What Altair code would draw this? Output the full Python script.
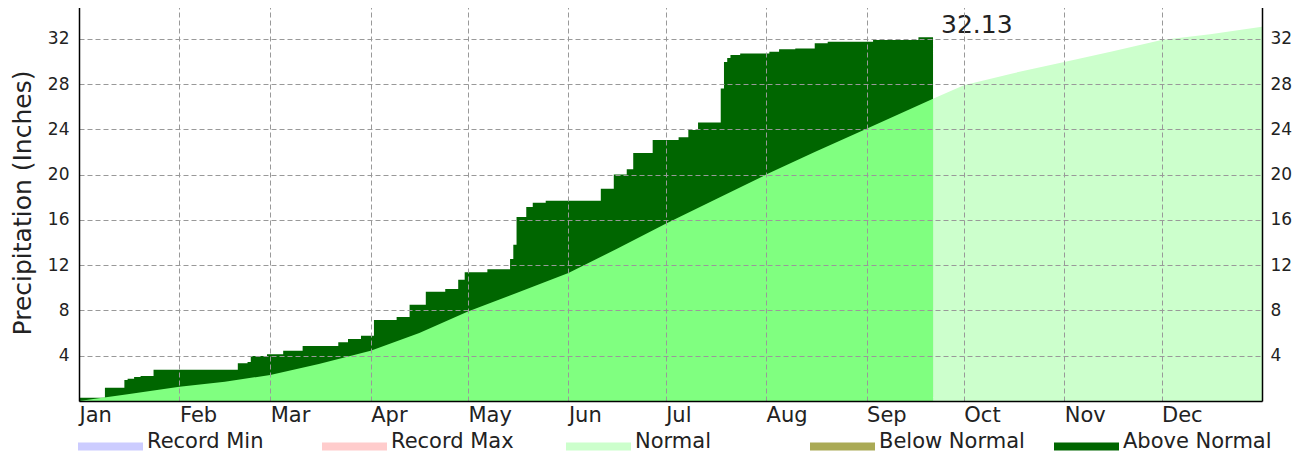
import altair as alt
import pandas as pd

# ---- data ----
months = ["Jan", "Feb", "Mar", "Apr", "May", "Jun", "Jul", "Aug", "Sep", "Oct", "Nov", "Dec"]
month_start_days = [0, 31, 59, 90, 120, 151, 181, 212, 243, 273, 304, 334]
y_ticks = [4, 8, 12, 16, 20, 24, 28, 32]

normal_days = [0, 15, 31, 45, 59, 74, 90, 105, 120, 135, 151, 166, 181, 196, 212,
               227, 243, 263.5, 273, 288, 304, 319, 334, 349, 365]
normal_vals = [0, 0.6, 1.25, 1.7, 2.3, 3.27, 4.45, 6.0, 7.9, 9.55, 11.3, 13.45, 15.65, 17.75, 20.0,
               22.0, 24.05, 26.7, 27.9, 28.94, 29.95, 30.9, 31.9, 32.4, 33.07]

obs_days = [0, 8, 14, 15, 17, 19, 23, 49, 52, 53, 58, 63, 69, 80, 83, 87, 91, 98, 102,
            107, 113, 117, 119, 126, 133, 134, 135, 138, 140, 144, 161, 165, 169, 171,
            177, 185, 188, 191, 198, 199, 200, 201, 204, 213, 216, 221, 227, 231, 245,
            259, 263.5]
obs_vals = [0.28, 1.18, 1.85, 1.97, 2.12, 2.2, 2.77, 3.33, 3.45, 3.97, 4.12, 4.45, 4.85,
            5.18, 5.48, 5.77, 7.16, 7.42, 8.5, 9.66, 9.9, 10.7, 11.38, 11.63, 12.55, 13.8,
            16.25, 17.13, 17.52, 17.7, 18.75, 20.0, 20.47, 21.9, 23.06, 23.3, 23.94, 24.6,
            27.6, 29.95, 30.3, 30.57, 30.7, 30.86, 31.07, 31.15, 31.6, 31.74, 31.9, 32.13,
            32.13]

obs_end_day = 263.5
obs_total_label = "32.13"

legend_names = ["Record Min", "Record Max", "Normal", "Below Normal", "Above Normal"]
series_names = legend_names + ["Observed Normal"]
series_colors = ["#ccccff", "#ffcccc", "#ccffcc", "#aaaa55", "#006600", "#80ff80"]

# ---- tables ----
normal_df = pd.DataFrame({"day": normal_days, "val": normal_vals})
obs_df = pd.DataFrame({"day": obs_days, "val": obs_vals})
label_df = pd.DataFrame({"day": [obs_end_day], "val": [obs_vals[-1]], "txt": [obs_total_label]})

FONT = "DejaVu Sans"
TXT = "#222222"
GRID = "#999999"

label_expr = ("[" + ",".join(f"'{m}'" for m in months) + "][indexof(["
              + ",".join(str(d) for d in month_start_days) + "], datum.value)]")

x_enc = alt.X(
    "day:Q",
    scale=alt.Scale(domain=[0, 365], nice=False, zero=False),
    axis=alt.Axis(values=month_start_days, labelExpr=label_expr, labelAlign="left",
                  labelFont=FONT, labelFontSize=21, labelColor=TXT, labelPadding=3,
                  ticks=False, grid=True, gridDash=[5, 3], gridColor=GRID, gridWidth=1,
                  domainColor="#000000", domainWidth=1.5, title=None, zindex=1,
                  labelFlush=False, labelOverlap=False),
)
y_scale = alt.Scale(domain=[0, 35.07], nice=False, zero=True)

color_enc = alt.Color(
    "series:N",
    scale=alt.Scale(domain=series_names, range=series_colors),
    legend=alt.Legend(
        values=legend_names, orient="none", legendX=-1, legendY=405,
        direction="horizontal", columns=5, gridAlign="all", columnPadding=26,
        symbolType="M-1,0.02L1,0.02L1,0.27L-1,0.27Z", symbolSize=4225,
        symbolStrokeWidth=0, symbolOpacity=1,
        labelFont=FONT, labelFontSize=21, labelColor=TXT, labelOffset=4, labelLimit=300,
        title=None,
    ),
)

normal_light = alt.Chart(normal_df).transform_calculate(series="'Normal'").mark_area(
    opacity=1, interpolate="linear"
).encode(
    x=x_enc,
    y=alt.Y("val:Q", scale=y_scale,
            axis=alt.Axis(orient="left", values=y_ticks, grid=True, gridDash=[5, 3],
                          gridColor=GRID, gridWidth=1, ticks=False, labelFont=FONT,
                          labelFontSize=17, labelColor=TXT, labelPadding=10,
                          domainColor="#000000", domainWidth=1.5,
                          title="Precipitation (Inches)", titleFont=FONT, titleFontSize=25,
                          titleFontWeight="normal", titleColor=TXT, titlePadding=12,
                          zindex=1)),
    color=color_enc,
)

obs_area = alt.Chart(obs_df).transform_calculate(series="'Above Normal'").mark_area(
    opacity=1, interpolate="step-after"
).encode(
    x=x_enc,
    y=alt.Y("val:Q", scale=y_scale,
            axis=alt.Axis(orient="right", values=y_ticks, grid=False, ticks=False,
                          labelFont=FONT, labelFontSize=17, labelColor=TXT, labelPadding=8,
                          domainColor="#000000", domainWidth=1.5, title=None, zindex=1)),
    color=color_enc,
)

normal_obs = alt.Chart(normal_df).transform_filter(
    alt.datum.day <= obs_end_day
).transform_calculate(series="'Observed Normal'").mark_area(
    opacity=1, interpolate="linear"
).encode(
    x=x_enc,
    y=alt.Y("val:Q", scale=y_scale, axis=None),
    color=color_enc,
)

total_text = alt.Chart(label_df).mark_text(
    align="left", baseline="alphabetic", dx=8, dy=-4, fontSize=25, font=FONT, color=TXT
).encode(
    x=x_enc,
    y=alt.Y("val:Q", scale=y_scale, axis=None),
    text="txt:N",
)

chart = alt.layer(normal_light, obs_area, normal_obs, total_text).resolve_axis(
    y="independent"
).properties(
    width=1183, height=397,
    autosize=alt.AutoSizeParams(type="none"),
    padding={"left": 71, "top": -4, "right": 35, "bottom": 55},
).configure_view(strokeWidth=0).configure(background="white")

chart.save("out.html", embed_options={"renderer": "svg", "actions": False})
